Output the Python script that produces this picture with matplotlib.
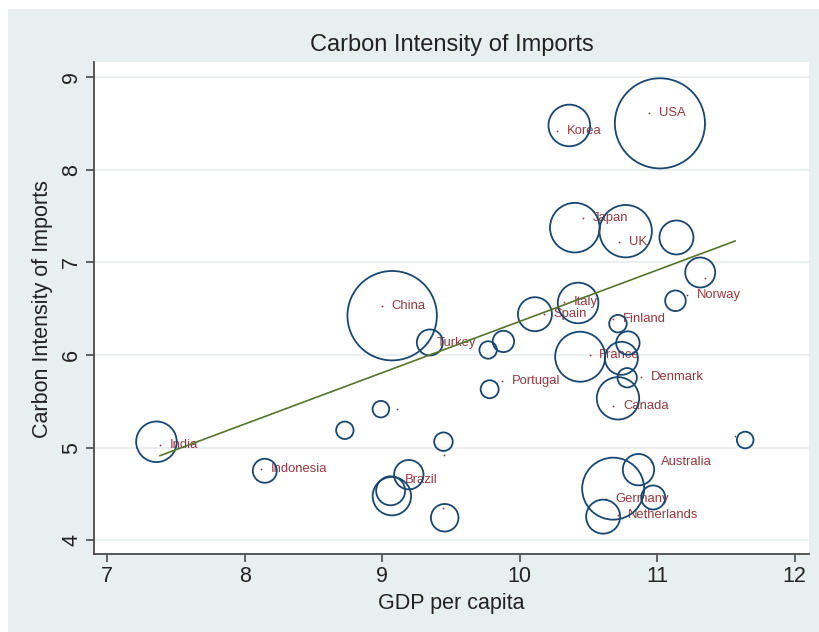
import numpy as np
import matplotlib
matplotlib.use("Agg")
import matplotlib.pyplot as plt
from matplotlib.patches import Rectangle

plt.rcParams['font.family'] = ['Liberation Sans', 'DejaVu Sans']

# Labelled points (log GDP per capita, carbon intensity of imports)
countries = ['USA', 'Korea', 'Japan', 'UK', 'China', 'Italy', 'Spain', 'Norway', '',
             'Finland', 'Turkey', 'France', 'Denmark', 'Portugal', 'Canada', '', '',
             'India', '', 'Australia', 'Indonesia', 'Brazil', 'Germany', '', 'Netherlands']
gdp = [10.944, 10.271, 10.464, 10.726, 8.998, 10.326, 10.178, 11.218, 11.349,
       10.680, 9.327, 10.508, 10.881, 9.871, 10.682, 9.107, 11.567,
       7.385, 9.453, 10.956, 8.120, 9.095, 10.629, 9.441, 10.716]
intensity = [8.615, 8.417, 7.475, 7.222, 6.532, 6.569, 6.442, 6.647, 6.828,
             6.388, 6.129, 6.000, 5.759, 5.722, 5.453, 5.417, 5.126,
             5.023, 4.921, 4.840, 4.766, 4.651, 4.446, 4.345, 4.273]

# Bubbles weighted by import volume
bub_gdp = [11.020, 10.361, 10.401, 10.771, 11.140, 9.073, 9.347, 11.313, 11.133,
           10.425, 10.111, 10.715, 10.787, 10.440, 10.740, 10.782, 10.715, 9.882,
           9.771, 9.782, 7.359, 8.147, 8.729, 8.991, 9.446, 9.194, 9.071, 9.062,
           9.455, 11.640, 10.864, 10.680, 10.971, 10.607]
bub_int = [8.500, 8.477, 7.374, 7.336, 7.268, 6.424, 6.135, 6.890, 6.585,
           6.561, 6.440, 6.338, 6.129, 5.981, 5.964, 5.754, 5.532, 6.146,
           6.054, 5.630, 5.063, 4.750, 5.187, 5.415, 5.064, 4.708, 4.476, 4.534,
           4.243, 5.082, 4.762, 4.557, 4.462, 4.255]
bub_weight = [20.3, 4.33, 6.15, 6.86, 2.89, 19.98, 1.69, 2.25, 1.06,
              4.12, 2.89, 0.77, 1.37, 6.25, 2.72, 0.94, 4.49, 1.14,
              0.76, 0.81, 4.12, 1.44, 0.76, 0.69, 0.86, 2.16, 3.69, 2.10,
              1.90, 0.69, 2.46, 9.61, 1.44, 2.89]

# weighted linear fit (intercept, slope)
fit_intercept = 0.822
fit_slope = 0.554

navy = '#1a476f'
maroon = '#95393d'
green = '#55752f'
bg = '#e8eff1'

fig = plt.figure(figsize=(8.19, 6.32), dpi=100)
fig.patch.set_facecolor('white')
fig.patches.append(Rectangle((8 / 819, 0), 1, 1 - 9 / 632, transform=fig.transFigure,
                             facecolor=bg, edgecolor='none', zorder=-1))

ax = fig.add_axes([94 / 819, 1 - 553.7 / 632, 715 / 819, 491.7 / 632])
ax.set_facecolor('white')

# labelled dots
ax.plot(gdp, intensity, 'o', ms=1.3, color=maroon, mec='none', zorder=2)
for name, x, y in zip(countries, gdp, intensity):
    if name:
        ax.annotate(name, (x, y), xytext=(7, 0), textcoords='offset points',
                    ha='left', va='center', fontsize=9.4, color=maroon, zorder=2)

# weighted bubbles
ax.scatter(bub_gdp, bub_int, s=np.array(bub_weight) * 207.4, facecolors='none',
           edgecolors=navy, linewidths=1.3, zorder=3)

# fitted line over the range of the labelled points
xs = np.array([min(gdp), max(gdp)])
ax.plot(xs, fit_intercept + fit_slope * xs, color=green, lw=1.2, zorder=4)

ax.set_xlim(6.905, 12.104)
ax.set_ylim(3.855, 9.162)
ax.set_xticks([7, 8, 9, 10, 11, 12])
ax.set_yticks([4, 5, 6, 7, 8, 9])
ax.grid(axis='y', color='#e6ecee', lw=1.2)
ax.set_axisbelow(True)
for side in ['top', 'right']:
    ax.spines[side].set_visible(False)
for side in ['left', 'bottom']:
    ax.spines[side].set_color('#4a4a4a')
    ax.spines[side].set_linewidth(1.3)
ax.tick_params(axis='both', length=6, width=1.2, color='#4a4a4a',
               labelsize=15.5, labelcolor='#222222')
ax.tick_params(axis='x', pad=3)
ax.tick_params(axis='y', pad=2.5)
for lab in ax.get_yticklabels():
    lab.set_rotation(90)
    lab.set_va('center')

fig.text((94 + 809) / 2 / 819, 1 - 45 / 632, 'Carbon Intensity of Imports',
         ha='center', va='center', fontsize=17, color='#222222')
fig.text((94 + 809) / 2 / 819, 1 - 604 / 632, 'GDP per capita',
         ha='center', va='center', fontsize=15.5, color='#222222')
fig.text(43 / 819, 1 - 309 / 632, 'Carbon Intensity of Imports', rotation=90,
         ha='center', va='center', fontsize=15.5, color='#222222')

fig.savefig('out.png', dpi=100)
